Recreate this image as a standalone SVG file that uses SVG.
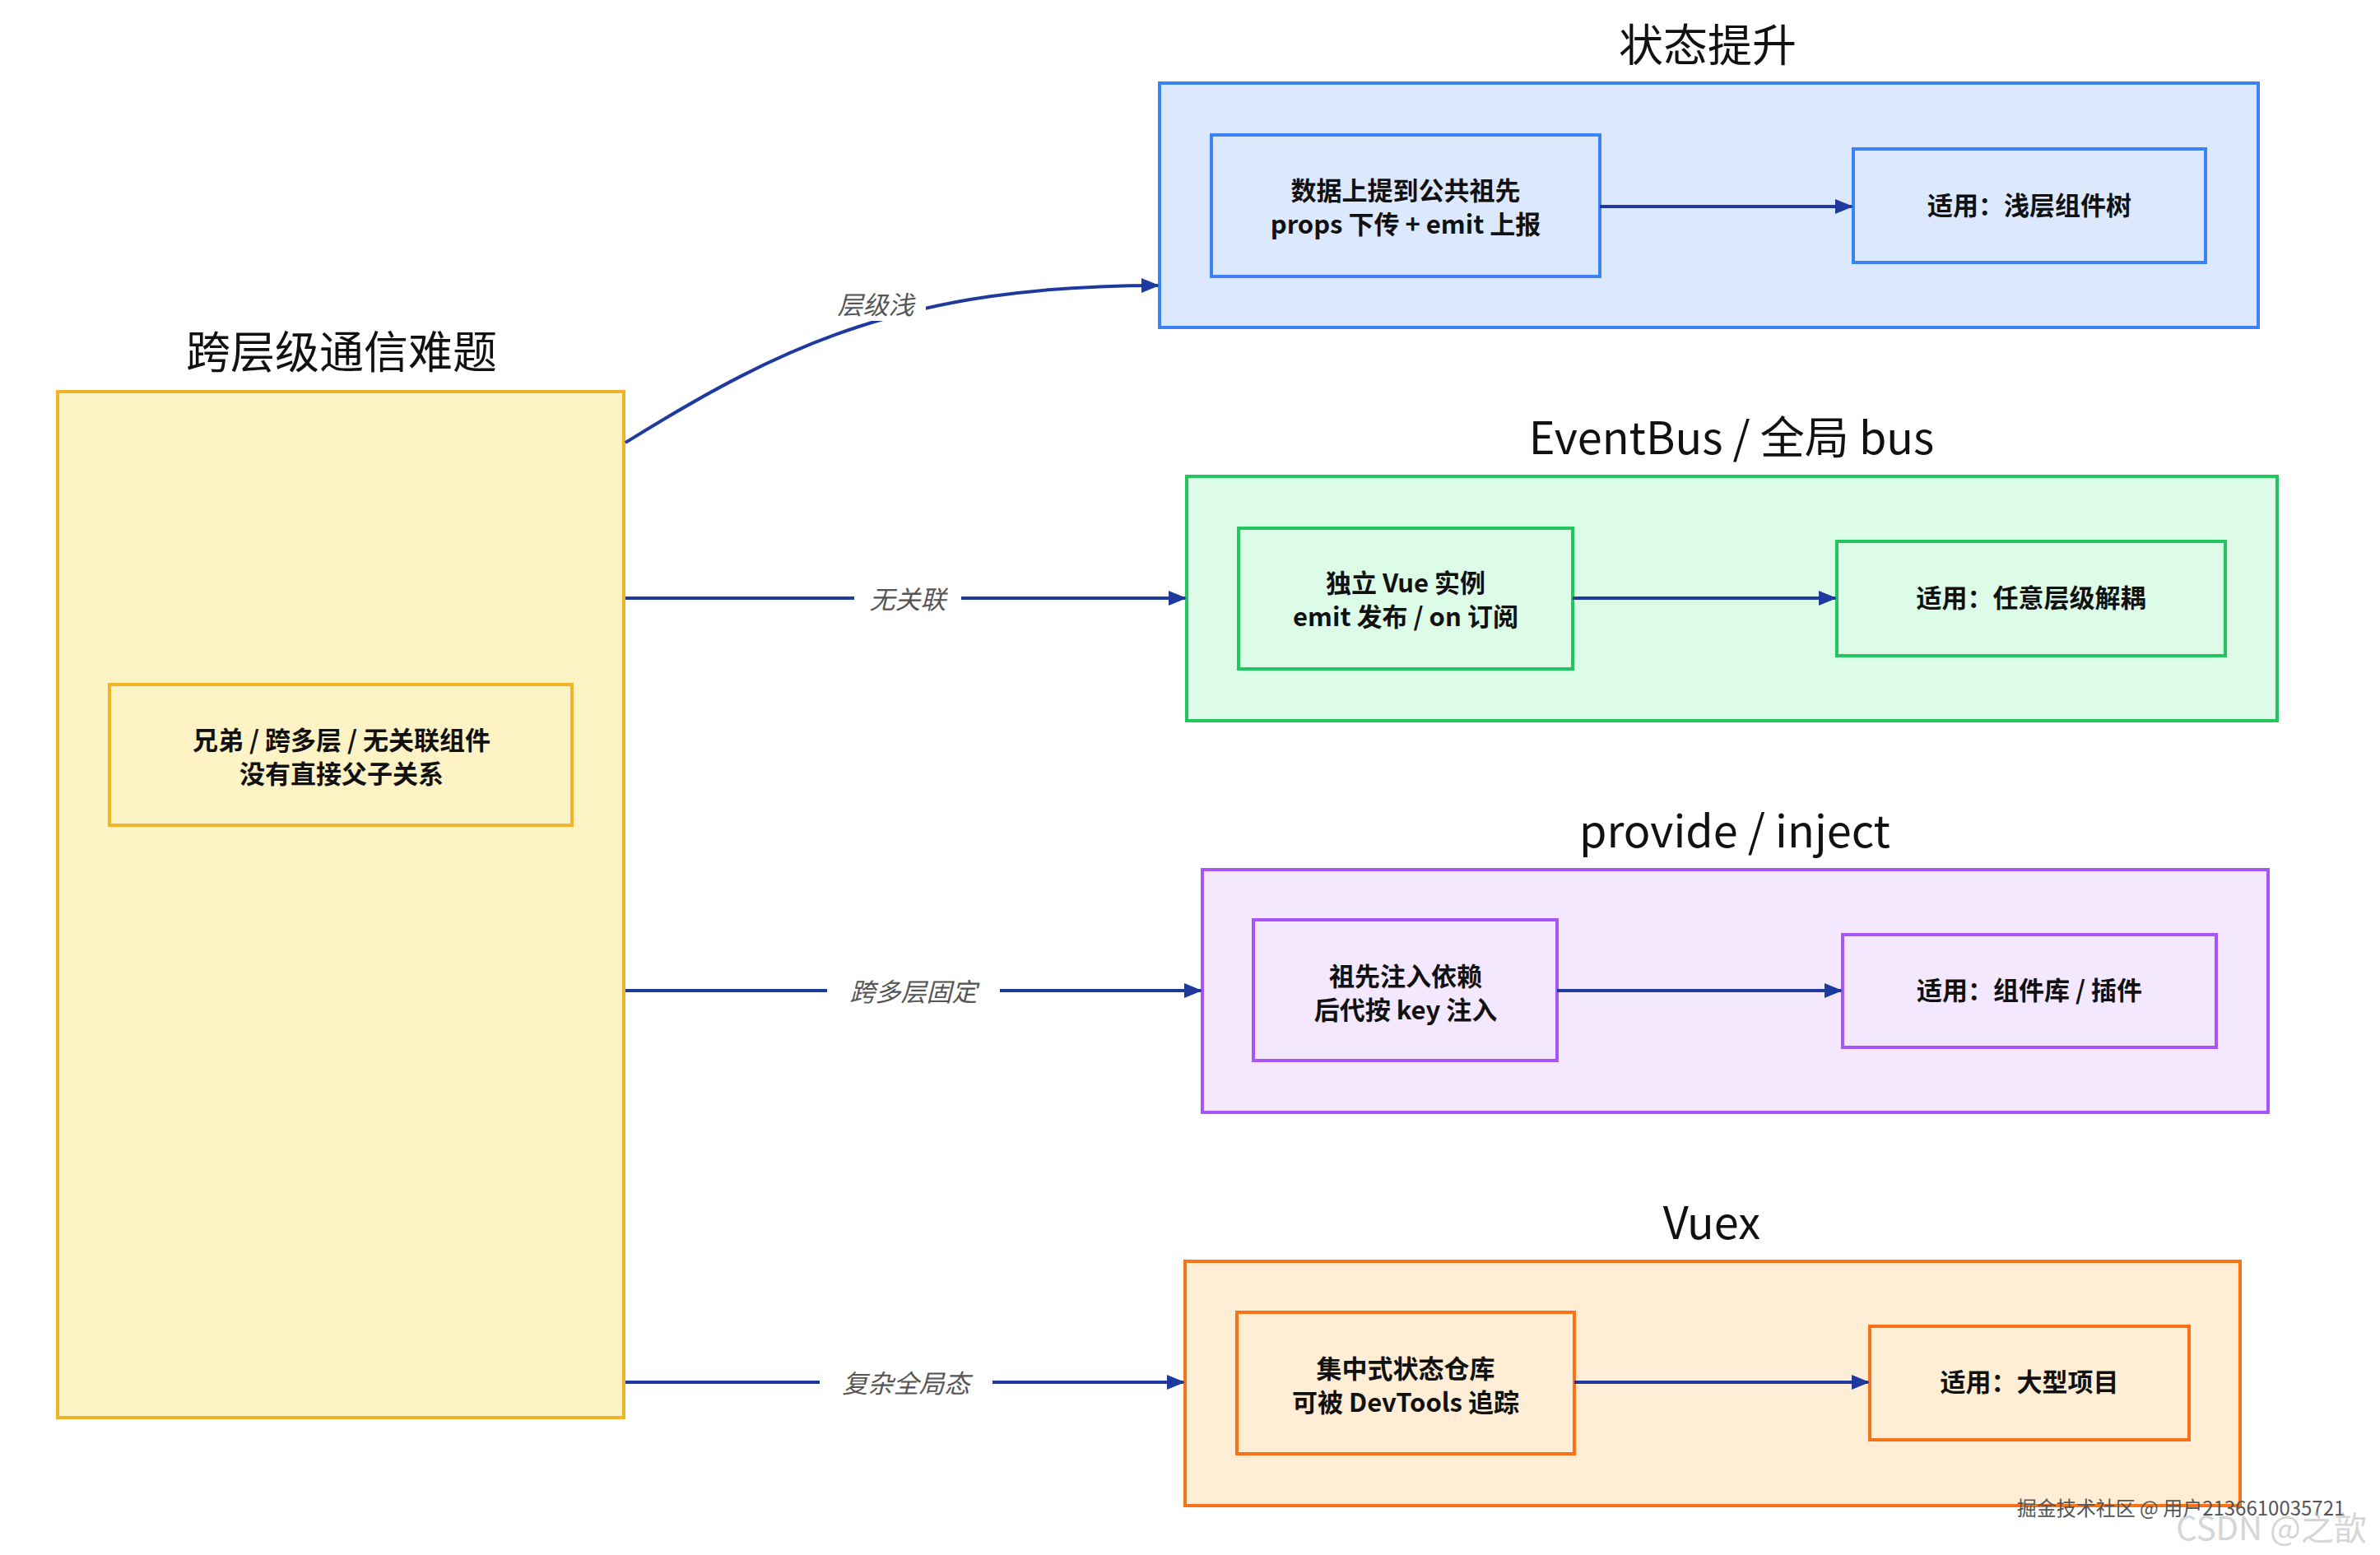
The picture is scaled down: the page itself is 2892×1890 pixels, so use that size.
<svg xmlns="http://www.w3.org/2000/svg" width="2892" height="1890" viewBox="0 0 2892 1890">
<style>
text{font-family:"Noto Sans CJK SC","Noto Sans",sans-serif;text-anchor:middle;fill:#111}
.t{font-size:54px}
.n{font-size:31px;font-weight:600}
.l{font-size:31px;font-style:italic;fill:#555}
.lb{fill:#fff}
</style>
<defs>
<marker id="b" markerWidth="22" markerHeight="22" refX="20" refY="11" orient="auto" markerUnits="userSpaceOnUse"><path d="M0,2L22,11L0,20z" fill="#1e3a9f"/></marker></defs>
<rect width="2892" height="1890" fill="#fff"/>
<g id="left">
<text class="t" x="415" y="448">跨层级通信难题</text>
<rect x="70" y="476" width="688" height="1247" fill="#fef3c4" stroke="#f0b429" stroke-width="4"/>
<rect x="133" y="832" width="562" height="171" fill="#fef3c4" stroke="#f0b429" stroke-width="4"/>
<text class="n" x="415" y="911">兄弟 / 跨多层 / 无关联组件</text>
<text class="n" x="415" y="952">没有直接父子关系</text>
</g>
<g id="lift">
<text class="t" x="2075" y="75">状态提升</text>
<rect x="1409" y="101" width="1335" height="297" fill="#dce8fd" stroke="#3b82f6" stroke-width="4"/>
<rect x="1472" y="164" width="472" height="172" fill="#dce8fd" stroke="#3b82f6" stroke-width="4"/>
<text class="n" x="1708" y="243">数据上提到公共祖先</text>
<text class="n" x="1708" y="284">props 下传 + emit 上报</text>
<rect x="2252" y="181" width="428" height="138" fill="#dce8fd" stroke="#3b82f6" stroke-width="4"/>
<text class="n" x="2466" y="261">适用：浅层组件树</text>
</g>
<g id="bus">
<text class="t" x="2104" y="552">EventBus / 全局 bus</text>
<rect x="1442" y="579" width="1325" height="297" fill="#dcfce7" stroke="#22c55e" stroke-width="4"/>
<rect x="1505" y="642" width="406" height="171" fill="#dcfce7" stroke="#22c55e" stroke-width="4"/>
<text class="n" x="1708" y="720">独立 Vue 实例</text>
<text class="n" x="1708" y="761">emit 发布 / on 订阅</text>
<rect x="2232" y="658" width="472" height="139" fill="#dcfce7" stroke="#22c55e" stroke-width="4"/>
<text class="n" x="2468" y="738">适用：任意层级解耦</text>
</g>
<g id="provide">
<text class="t" x="2108" y="1030">provide / inject</text>
<rect x="1461" y="1057" width="1295" height="295" fill="#f3e8ff" stroke="#a855f7" stroke-width="4"/>
<rect x="1523" y="1118" width="369" height="171" fill="#f3e8ff" stroke="#a855f7" stroke-width="4"/>
<text class="n" x="1708" y="1198">祖先注入依赖</text>
<text class="n" x="1708" y="1239">后代按 key 注入</text>
<rect x="2239" y="1136" width="454" height="137" fill="#f3e8ff" stroke="#a855f7" stroke-width="4"/>
<text class="n" x="2466" y="1215">适用：组件库 / 插件</text>
</g>
<g id="vuex">
<text class="t" x="2080" y="1506">Vuex</text>
<rect x="1440" y="1533" width="1282" height="297" fill="#ffedd5" stroke="#f97316" stroke-width="4"/>
<rect x="1503" y="1595" width="410" height="172" fill="#ffedd5" stroke="#f97316" stroke-width="4"/>
<text class="n" x="1708" y="1675">集中式状态仓库</text>
<text class="n" x="1708" y="1716">可被 DevTools 追踪</text>
<rect x="2272" y="1612" width="388" height="138" fill="#ffedd5" stroke="#f97316" stroke-width="4"/>
<text class="n" x="2466" y="1691">适用：大型项目</text>
</g>
<g id="connectors" fill="none" stroke="#1e3a9f" stroke-width="4">
<path d="M1944,251H2250" marker-end="url(#b)"/>
<path d="M1911,727H2230" marker-end="url(#b)"/>
<path d="M1892,1204H2237" marker-end="url(#b)"/>
<path d="M1913,1680H2270" marker-end="url(#b)"/>
<path d="M760,538C950,420 1100,347 1407,347" marker-end="url(#b)"/>
<path d="M760,727H1440" marker-end="url(#b)"/>
<path d="M760,1204H1459" marker-end="url(#b)"/>
<path d="M760,1680H1438" marker-end="url(#b)"/>
</g>
<g id="labels">
<rect class="lb" x="1005" y="345" width="120" height="45"/>
<text class="l" x="1064" y="382">层级浅</text>
<rect class="lb" x="1038" y="705" width="130" height="45"/>
<text class="l" x="1103" y="740">无关联</text>
<rect class="lb" x="1005" y="1182" width="210" height="45"/>
<text class="l" x="1110" y="1217">跨多层固定</text>
<rect class="lb" x="996" y="1658" width="210" height="45"/>
<text class="l" x="1101" y="1693">复杂全局态</text>
</g>
<text x="2650" y="1842" style="font-size:24px;fill:#555">掘金技术社区 @ 用户2136610035721</text>
<text x="2760" y="1872" style="font-size:40px;fill:#bbb;opacity:0.6">CSDN @之歆</text>
</svg>
